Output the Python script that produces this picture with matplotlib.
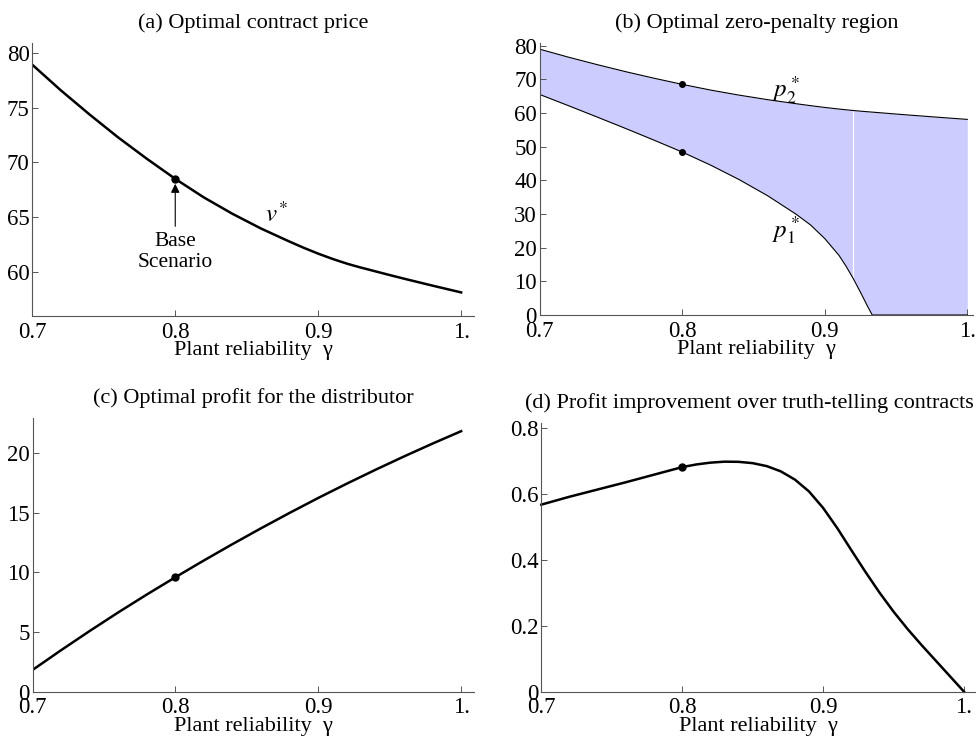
import matplotlib
matplotlib.use("Agg")
import matplotlib.pyplot as plt
import numpy as np

plt.rcParams['font.family'] = ['Liberation Serif', 'DejaVu Serif']
plt.rcParams['mathtext.fontset'] = 'stix'
plt.rcParams['font.size'] = 16.5

# plant reliability grid for panels (a) and (b)
gamma_ab = [0.70, 0.72, 0.74, 0.76, 0.78, 0.80, 0.82, 0.84, 0.86, 0.88, 0.89,
            0.90, 0.91, 0.915, 0.92, 0.925, 0.93, 0.9333, 0.94, 0.95, 0.96,
            0.97, 0.98, 0.99, 1.00]
# optimal contract price v* (also the upper bound p2* of the zero-penalty region)
v_star = [78.95, 76.6, 74.4, 72.3, 70.35, 68.5, 66.8, 65.3, 63.95, 62.75, 62.18,
          61.65, 61.17, 60.95, 60.74, 60.55, 60.37, 60.26, 60.03, 59.69, 59.36,
          59.04, 58.72, 58.41, 58.1]
p2_star = v_star
# lower bound p1* of the zero-penalty region
p1_star = [65.5, 62.2, 58.85, 55.45, 51.97, 48.4, 44.5, 40.2, 35.4, 29.9, 26.75,
           22.7, 17.7, 14.45, 10.8, 6.8, 2.6, 0.0, 0.0, 0.0, 0.0,
           0.0, 0.0, 0.0, 0.0]
split_gamma = 0.92

# panel (c): distributor profit
gamma_c = [0.70, 0.72, 0.74, 0.76, 0.78, 0.80, 0.82, 0.84, 0.86, 0.88,
           0.90, 0.92, 0.94, 0.96, 0.98, 1.00]
profit = [1.82, 3.48, 5.09, 6.65, 8.15, 9.6, 11.01, 12.38, 13.71, 15.0,
          16.25, 17.45, 18.61, 19.73, 20.81, 21.85]

# panel (d): improvement over truth-telling contracts
gamma_d = [0.70, 0.72, 0.74, 0.76, 0.78, 0.80, 0.81, 0.82, 0.83, 0.84, 0.85,
           0.86, 0.87, 0.88, 0.89, 0.90, 0.91, 0.92, 0.93, 0.94, 0.95, 0.96,
           0.97, 0.98, 0.99, 1.00]
improvement = [0.568, 0.592, 0.614, 0.636, 0.659, 0.682, 0.690, 0.6955, 0.6985,
               0.698, 0.694, 0.685, 0.669, 0.644, 0.608, 0.558, 0.497, 0.430,
               0.364, 0.301, 0.243, 0.190, 0.141, 0.094, 0.047, 0.0]

base_gamma = 0.8
x_ticks = [0.7, 0.8, 0.9, 1.0]
x_ticklabels = ['0.7', '0.8', '0.9', '1.']

W, H = 976, 742
fig = plt.figure(figsize=(W / 100, H / 100), dpi=100)


def make_axes(left, right, top, bottom):
    return fig.add_axes([left / W, 1 - bottom / H, (right - left) / W, (bottom - top) / H])


def style(ax, title, xmax, ylim, yticks, yticklabels, title_x=0.5):
    ax.set_xlim(0.7, xmax)
    ax.set_ylim(*ylim)
    ax.set_xticks(x_ticks)
    ax.set_xticklabels(x_ticklabels)
    ax.set_yticks(yticks)
    ax.set_yticklabels(yticklabels)
    for s in ['top', 'right']:
        ax.spines[s].set_visible(False)
    for s in ['left', 'bottom']:
        ax.spines[s].set_color('#555555')
        ax.spines[s].set_linewidth(0.8)
    ax.tick_params(direction='in', length=4, width=0.7, color='#555555', pad=2)
    ax.tick_params(axis='x', pad=4)
    ax.set_title(title, pad=11, fontsize=16, x=title_x)
    ax.set_xlabel('Plant reliability  γ', labelpad=-1, fontsize=16)


def at_base(xs, ys):
    return ys[xs.index(base_gamma)]


# (a) optimal contract price
ax = make_axes(32.3, 474, 43, 316)
ax.plot(gamma_ab, v_star, color='black', lw=1.8)
ax.plot(base_gamma, at_base(gamma_ab, v_star), 'o', color='black', ms=5)
ax.annotate('', xy=(base_gamma, at_base(gamma_ab, v_star) - 0.2), xytext=(base_gamma, 63.9),
            arrowprops=dict(arrowstyle='-|>', color='black', lw=0.8, mutation_scale=13))
ax.text(base_gamma, 63.6, 'Base\nScenario', ha='center', va='top', linespacing=1.1, fontsize=15.5)
ax.text(0.871, 65.2, r'$v^{\!*}$', fontsize=18, ha='center', va='center')
style(ax, '(a) Optimal contract price', 1.009, (55.94, 80.94),
      [60, 65, 70, 75, 80], ['60', '65', '70', '75', '80'])

# (b) optimal zero-penalty region
ax = make_axes(539.7, 973, 43.3, 315)
g = np.array(gamma_ab)
k = gamma_ab.index(split_gamma)
ax.fill_between(g[:k + 1], p1_star[:k + 1], p2_star[:k + 1], color='#ccccff', lw=0)
ax.fill_between(g[k:], p1_star[k:], p2_star[k:], color='#ccccff', lw=0)
ax.vlines(split_gamma, p1_star[k], p2_star[k], color='white', lw=0.8)
ax.plot(gamma_ab, p2_star, color='black', lw=0.8)
ax.plot(gamma_ab, p1_star, color='black', lw=0.8)
ax.plot([base_gamma] * 2, [at_base(gamma_ab, p2_star), at_base(gamma_ab, p1_star)],
        'o', color='black', ms=4)
ax.text(0.873, 66.8, r'$p_2^*$', fontsize=18, ha='center', va='center')
ax.text(0.873, 25.3, r'$p_1^*$', fontsize=18, ha='center', va='center')
style(ax, '(b) Optimal zero-penalty region', 1.004, (0, 80.7),
      list(range(0, 81, 10)), [str(v) for v in range(0, 81, 10)])

# (c) optimal profit for the distributor
ax = make_axes(32.5, 474, 418.3, 691.7)
ax.plot(gamma_c, profit, color='black', lw=1.8)
ax.plot(base_gamma, at_base(gamma_c, profit), 'o', color='black', ms=5)
style(ax, '(c) Optimal profit for the distributor', 1.009, (0, 22.93),
      [0, 5, 10, 15, 20], ['0', '5', '10', '15', '20'])

# (d) profit improvement over truth-telling contracts
ax = make_axes(541.3, 976, 423.3, 691.7)
ax.plot(gamma_d, improvement, color='black', lw=1.8, clip_on=False)
ax.plot(base_gamma, at_base(gamma_d, improvement), 'o', color='black', ms=5)
style(ax, '(d) Profit improvement over truth-telling contracts', 1.0085, (0, 0.815),
      [0, 0.2, 0.4, 0.6, 0.8], ['0', '0.2', '0.4', '0.6', '0.8'], title_x=0.478)

fig.savefig('out.png', dpi=100)
